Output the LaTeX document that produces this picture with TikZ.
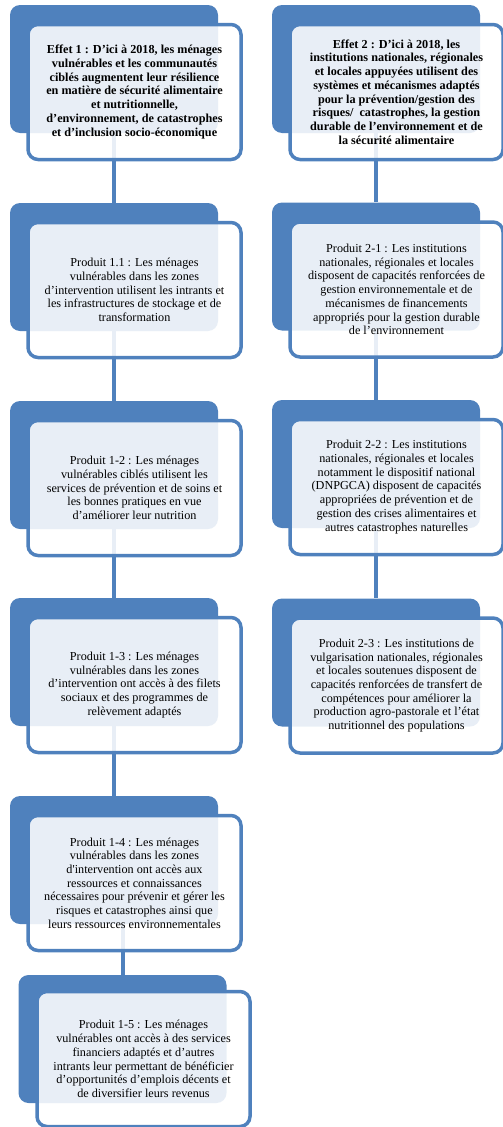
\documentclass[tikz,border=0pt]{standalone}
\usepackage{fontspec}
\setmainfont{Liberation Serif}
\usetikzlibrary{backgrounds}
\definecolor{boxblue}{RGB}{79,129,189}
\tikzset{
  backbox/.style={fill=boxblue, rounded corners=10pt, inner sep=0pt,
    minimum width=208pt, minimum height=128pt},
  frontbox/.style={draw=boxblue, line width=3.5pt, fill=white, fill opacity=0.87,
    text opacity=1, rounded corners=10pt, inner sep=0pt, align=center,
    minimum width=213pt, minimum height=135pt, font=\fontsize{12.2}{13.7}\selectfont},
  link/.style={draw=boxblue, line width=4pt},
}
\begin{document}
\begin{tikzpicture}[x=1pt, y=-1pt]
  \useasboundingbox (0,0) rectangle (503,1127);
  % left column
  \node[backbox] (e1b) at (114,69) {};
  \node[frontbox] (e1) at ([shift={(20.5,23)}]e1b) {\bfseries Effet 1 : D’ici à 2018, les ménages\\
    \bfseries vulnérables et les communautés\\
    \bfseries ciblés augmentent leur résilience\\
    \bfseries en matière de sécurité alimentaire\\
    \bfseries et nutritionnelle,\\
    \bfseries d’environnement, de catastrophes\\
    \bfseries et d’inclusion socio-économique};
  \node[backbox] (p11b) at (114,267) {};
  \node[frontbox] (p11) at ([shift={(20.5,23)}]p11b) {Produit 1.1 : Les ménages\\
    vulnérables dans les zones\\
    d’intervention utilisent les intrants et\\
    les infrastructures de stockage et de\\
    transformation};
  \node[backbox] (p12b) at (114,465) {};
  \node[frontbox] (p12) at ([shift={(20.5,23)}]p12b) {Produit 1-2 : Les ménages\\
    vulnérables ciblés utilisent les\\
    services de prévention et de soins et\\
    les bonnes pratiques en vue\\
    d’améliorer leur nutrition};
  \node[backbox] (p13b) at (114,662) {};
  \node[frontbox] (p13) at ([shift={(20.5,23)}]p13b) {Produit 1-3 : Les ménages\\
    vulnérables dans les zones\\
    d’intervention ont accès à des filets\\
    sociaux et des programmes de\\
    relèvement adaptés};
  \node[backbox] (p14b) at (114,860) {};
  \node[frontbox] (p14) at ([shift={(20.5,23)}]p14b) {Produit 1-4 : Les ménages\\
    vulnérables dans les zones\\
    d\textquotesingle intervention ont accès aux\\
    ressources et connaissances\\
    nécessaires pour prévenir et gérer les\\
    risques et catastrophes ainsi que\\
    leurs ressources environnementales};
  \node[backbox] (p15b) at (122.5,1039) {};
  \node[frontbox] (p15) at ([shift={(21,20)}]p15b) {Produit 1-5 : Les ménages\\
    vulnérables ont accès à des services\\
    financiers adaptés et d’autres\\
    intrants leur permettant de bénéficier\\
    d’opportunités d’emplois décents et\\
    de diversifier leurs revenus};
  % right column
  \node[backbox] (e2b) at (376,69) {};
  \node[frontbox] (e2) at ([shift={(20.5,23)}]e2b) {\bfseries Effet 2 : D’ici à 2018, les\\
    \bfseries institutions nationales, régionales\\
    \bfseries et locales appuyées utilisent des\\
    \bfseries systèmes et mécanismes adaptés\\
    \bfseries pour la prévention/gestion des\\
    \bfseries risques/\ \ catastrophes, la gestion\\
    \bfseries durable de l’environnement et de\\
    \bfseries la sécurité alimentaire};
  \node[backbox] (p21b) at (376,266.5) {};
  \node[frontbox] (p21) at ([shift={(20.5,23)}]p21b) {Produit 2-1 : Les institutions\\
    nationales, régionales et locales\\
    disposent de capacités renforcées de\\
    gestion environnementale et de\\
    mécanismes de financements\\
    appropriés pour la gestion durable\\
    de l’environnement};
  \node[backbox] (p22b) at (376,464) {};
  \node[frontbox] (p22) at ([shift={(20.5,23)}]p22b) {Produit 2-2 : Les institutions\\
    nationales, régionales et locales\\
    notamment le dispositif national\\
    (DNPGCA) disposent de capacités\\
    appropriées de prévention et de\\
    gestion des crises alimentaires et\\
    autres catastrophes naturelles};
  \node[backbox] (p23b) at (376,662.5) {};
  \node[frontbox] (p23) at ([shift={(20.5,23)}]p23b) {Produit 2-3 : Les institutions de\\
    vulgarisation nationales, régionales\\
    et locales soutenues disposent de\\
    capacités renforcées de transfert de\\
    compétences pour améliorer la\\
    production agro-pastorale et l’état\\
    nutritionnel des populations};
  % links, behind the boxes
  \begin{scope}[on background layer]
    \draw[link] (e1b) -- (p11b);
    \draw[link] (p11b) -- (p12b);
    \draw[link] (p12b) -- (p13b);
    \draw[link] (p13b) -- (p14b);
    \draw[link] (p15b) -- (p15b |- p14b);
    \draw[link] (e2b) -- (p21b);
    \draw[link] (p21b) -- (p22b);
    \draw[link] (p22b) -- (p23b);
  \end{scope}
\end{tikzpicture}
\end{document}
